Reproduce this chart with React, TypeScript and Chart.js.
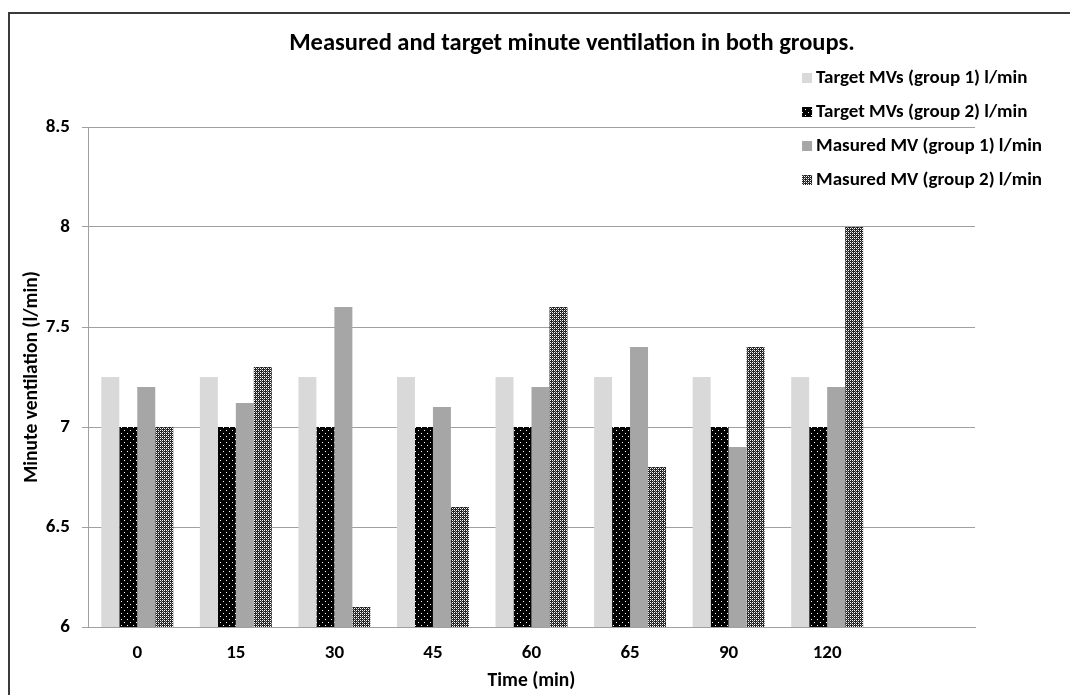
import React, { useEffect, useRef } from "react";
import { Chart, registerables } from "chart.js";

Chart.register(...registerables);

const categories = ["0", "15", "30", "45", "60", "65", "90", "120", ""];
const targetGroup1 = [7.25, 7.25, 7.25, 7.25, 7.25, 7.25, 7.25, 7.25];
const targetGroup2 = [7, 7, 7, 7, 7, 7, 7, 7];
const measuredGroup1 = [7.2, 7.12, 7.6, 7.1, 7.2, 7.4, 6.9, 7.2];
const measuredGroup2 = [7.0, 7.3, 6.1, 6.6, 7.6, 6.8, 7.4, 8.0];
const seriesLabels = [
  "Target MVs (group 1) l/min",
  "Target MVs (group 2) l/min",
  "Masured MV (group 1) l/min",
  "Masured MV (group 2) l/min",
];
const yTickValues = [6, 6.5, 7, 7.5, 8, 8.5];
const titleText = "Measured and target minute ventilation in both groups.";
const xTitle = "Time (min)";
const yTitle = "Minute ventilation (l/min)";

const FONT = "Carlito, Calibri, Lato, sans-serif";

function dotPattern(): CanvasPattern | string {
  const c = document.createElement("canvas");
  c.width = 6;
  c.height = 6;
  const g = c.getContext("2d")!;
  g.fillStyle = "#000";
  g.fillRect(0, 0, 6, 6);
  g.fillStyle = "#fff";
  g.fillRect(1, 1, 1, 1);
  g.fillRect(4, 4, 1, 1);
  return g.createPattern(c, "repeat") || "#000";
}

function gridPattern(): CanvasPattern | string {
  const c = document.createElement("canvas");
  c.width = 4;
  c.height = 4;
  const g = c.getContext("2d")!;
  g.fillStyle = "#222";
  g.fillRect(0, 0, 4, 4);
  g.fillStyle = "#fff";
  g.fillRect(0, 0, 1, 1);
  g.fillRect(2, 0, 1, 1);
  g.fillRect(0, 2, 1, 1);
  g.fillRect(2, 2, 1, 1);
  g.fillStyle = "#888";
  g.fillRect(1, 1, 1, 1);
  g.fillRect(3, 3, 1, 1);
  return g.createPattern(c, "repeat") || "#444";
}

export default function App() {
  const ref = useRef<HTMLCanvasElement | null>(null);

  useEffect(() => {
    const canvas = ref.current;
    if (!canvas) return;
    const fills = ["#d9d9d9", dotPattern(), "#a6a6a6", gridPattern()];
    const values = [targetGroup1, targetGroup2, measuredGroup1, measuredGroup2];
    const tickFont = { family: FONT, size: 19, weight: "bold" as const };
    const axisTitleFont = { family: FONT, size: 19.5, weight: "bold" as const };

    const framePlugin = {
      id: "frame",
      beforeDraw(chart: any) {
        const ctx = chart.ctx;
        ctx.save();
        ctx.fillStyle = "#fff";
        ctx.fillRect(0, 0, chart.width, chart.height);
        ctx.strokeStyle = "#3a3a3a";
        ctx.lineWidth = 2;
        ctx.strokeRect(9, 13, 1200, 800);
        ctx.restore();
      },
      afterDraw(chart: any) {
        const ctx = chart.ctx;
        ctx.save();
        // title
        ctx.font = `bold 24.5px ${FONT}`;
        ctx.fillStyle = "#000";
        ctx.textAlign = "center";
        ctx.textBaseline = "middle";
        ctx.fillText(titleText, 572, 44);
        // legend
        ctx.font = `bold 19px ${FONT}`;
        ctx.textAlign = "left";
        const w = ctx.measureText(seriesLabels[2]).width;
        const textLeft = 1042 - w;
        const rows = [78, 112, 146, 180];
        chart.data.datasets.forEach((ds: any, i: number) => {
          ctx.fillStyle = ds.backgroundColor;
          ctx.fillRect(textLeft - 14, rows[i] - 5, 10, 10);
          ctx.fillStyle = "#000";
          ctx.fillText(ds.label, textLeft, rows[i]);
        });
        ctx.restore();
      },
    };

    const chart = new Chart(canvas, {
      type: "bar",
      data: {
        labels: categories,
        datasets: values.map((v, i) => ({
          label: seriesLabels[i],
          data: v,
          backgroundColor: fills[i] as any,
          borderWidth: 0,
          categoryPercentage: 0.73,
          barPercentage: 1.0,
        })),
      },
      options: {
        animation: false,
        responsive: false,
        maintainAspectRatio: false,
        font: { family: FONT, size: 19, weight: "bold" } as any,
        layout: { padding: { left: 16, right: 95, top: 127, bottom: 0 } },
        plugins: {
          legend: { display: false },
          title: { display: false },
          tooltip: { enabled: false },
        },
        scales: {
          x: {
            grid: { display: false, drawTicks: false },
            border: { display: true, color: "#a0a0a0", width: 1 },
            ticks: {
              padding: 15,
              color: "#000",
              font: tickFont,
              maxRotation: 0,
              autoSkip: false,
            },
            title: {
              display: true,
              text: xTitle,
              color: "#000",
              font: axisTitleFont,
              padding: { top: 2, bottom: 2 },
            },
            afterFit(s: any) {
              s.height = 68;
            },
          },
          y: {
            min: 6,
            max: 8.5,
            afterBuildTicks(s: any) {
              s.ticks = yTickValues.map((v) => ({ value: v }));
            },
            grid: { color: "#a0a0a0", tickLength: 6, lineWidth: 1 },
            border: { display: true, color: "#a0a0a0", width: 1 },
            ticks: {
              padding: 12,
              color: "#000",
              font: tickFont,
              callback: (v: any) => String(v),
            },
            title: {
              display: true,
              text: yTitle,
              color: "#000",
              font: axisTitleFont,
              padding: { top: 4, bottom: 4 },
            },
            afterFit(s: any) {
              s.width = 72;
            },
          },
        },
      },
      plugins: [framePlugin],
    });
    return () => chart.destroy();
  }, []);

  return (
    <div style={{ position: "fixed", left: 0, top: 0, width: 1070, height: 695 }}>
      <canvas ref={ref} width={1070} height={695} style={{ width: 1070, height: 695, display: "block" }} />
    </div>
  );
}
